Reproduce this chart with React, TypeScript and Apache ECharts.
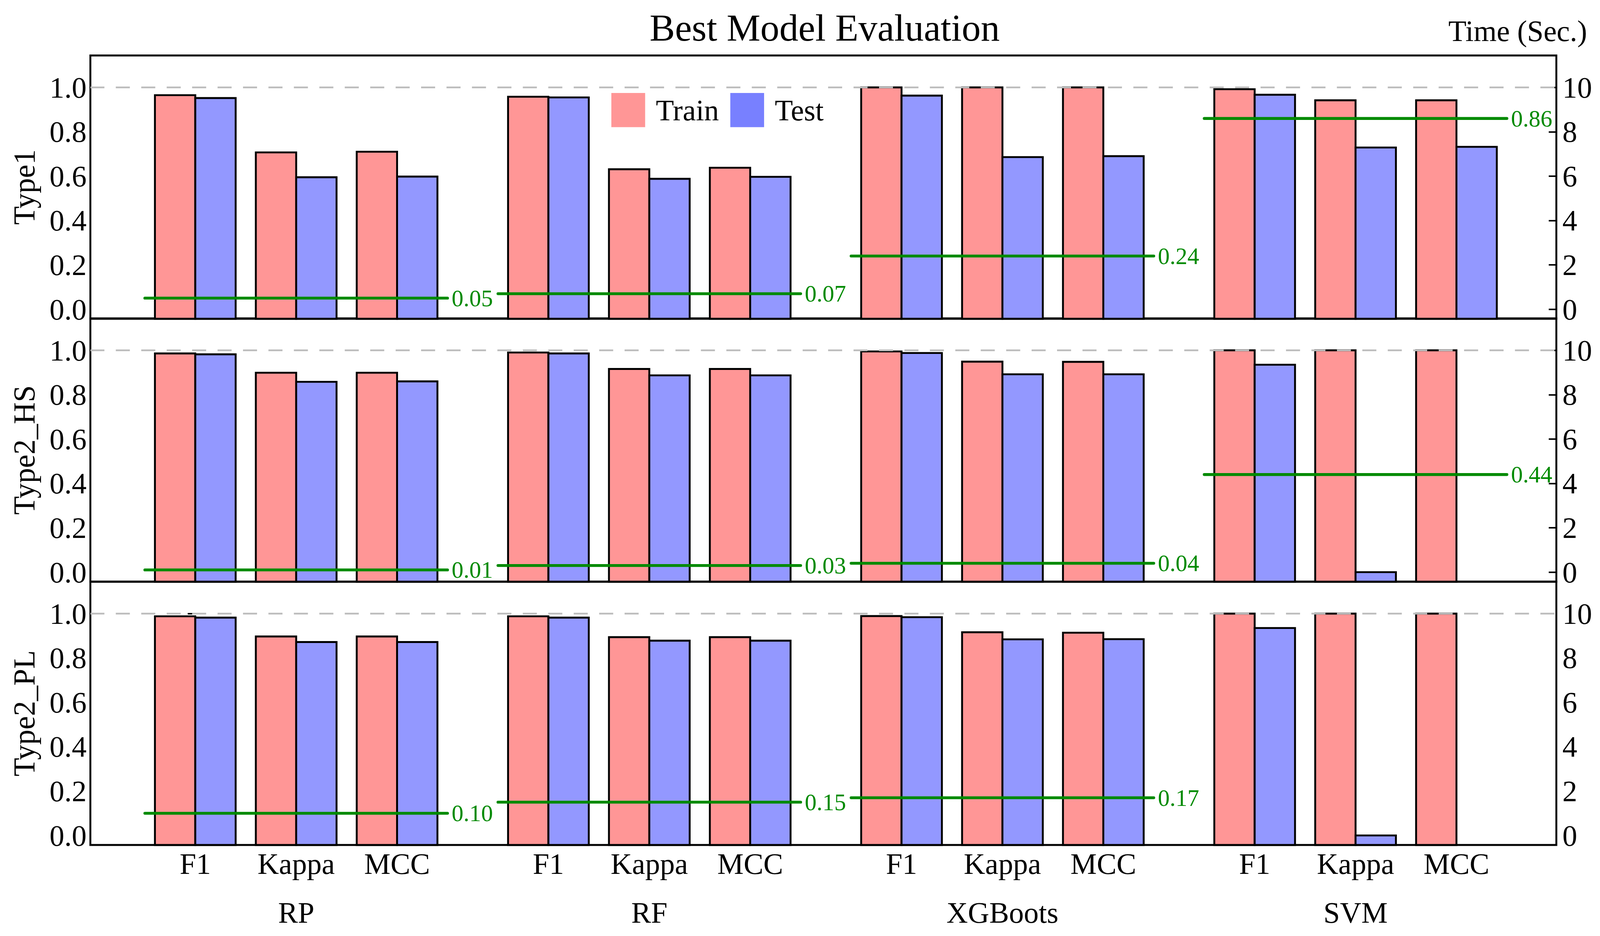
import React, { useEffect, useRef } from 'react';
import * as echarts from 'echarts';

const PANELS = ['Type1', 'Type2_HS', 'Type2_PL'];
const GROUPS = ['RP', 'RF', 'XGBoots', 'SVM'];
const METRICS = ['F1', 'Kappa', 'MCC'];
const Y_TICKS = [0, 0.2, 0.4, 0.6, 0.8, 1.0];
const TIME_TICKS = [0, 2, 4, 6, 8, 10];

// order: RP(F1,Kappa,MCC), RF(...), XGBoots(...), SVM(...)
const TRAIN_TYPE1 = [0.965, 0.707, 0.71, 0.958, 0.631, 0.638, 1.0, 1.0, 1.0, 0.992, 0.942, 0.942];
const TEST_TYPE1 = [0.952, 0.595, 0.598, 0.955, 0.588, 0.597, 0.963, 0.686, 0.69, 0.967, 0.729, 0.732];
const TIME_TYPE1 = [0.05, 0.07, 0.24, 0.86];

const TRAIN_TYPE2_HS = [0.986, 0.899, 0.899, 0.99, 0.916, 0.916, 0.995, 0.949, 0.948, 1.0, 1.0, 1.0];
const TEST_TYPE2_HS = [0.982, 0.858, 0.86, 0.986, 0.887, 0.887, 0.988, 0.892, 0.892, 0.935, 0.0, null];
const TIME_TYPE2_HS = [0.01, 0.03, 0.04, 0.44];

const TRAIN_TYPE2_PL = [0.988, 0.897, 0.897, 0.988, 0.894, 0.894, 0.989, 0.916, 0.914, 1.0, 1.0, 1.0];
const TEST_TYPE2_PL = [0.982, 0.872, 0.872, 0.982, 0.878, 0.878, 0.984, 0.884, 0.885, 0.935, 0.0, null];
const TIME_TYPE2_PL = [0.1, 0.15, 0.17, null];

const TRAIN = [TRAIN_TYPE1, TRAIN_TYPE2_HS, TRAIN_TYPE2_PL];
const TEST = [TEST_TYPE1, TEST_TYPE2_HS, TEST_TYPE2_PL];
const TIME = [TIME_TYPE1, TIME_TYPE2_HS, TIME_TYPE2_PL];

const FONT = "'Liberation Serif', 'Times New Roman', serif";
const TRAIN_COLOR = '#FF9696';
const TEST_COLOR = '#9398FF';
const GREEN = '#008A00';
const X_MIN = -1.04;
const X_MAX = 13.49;
const Y_MIN = -0.043;
const Y_MAX = 1.144;
const GROUP_START = [0, 3.5, 7, 10.5];
const BAR_W = 0.4;
const REF_W = 4214;
const REF_H = 2396;
const GRID_TOPS = [142, 815, 1489];
const GRID_H = 674;

const METRIC_X = GROUP_START.flatMap((g) => METRICS.map((_, m) => g + m));
const GROUP_X = GROUP_START.map((g) => g + 1);

function barSeries(p: number, name: string, values: (number | null)[], color: string, left: boolean, lw: number) {
  const data = METRIC_X.map((x, i) => (values[i] == null ? null : [x, values[i]])).filter((d) => d != null);
  return {
    type: 'custom',
    name,
    xAxisIndex: p,
    yAxisIndex: p * 2,
    z: 2,
    itemStyle: { color },
    data,
    renderItem: (_params: any, api: any) => {
      const x = api.value(0);
      const v = api.value(1);
      const top = api.coord([x, v]);
      const base = api.coord([x, Y_MIN]);
      const w = api.size([BAR_W, 0])[0];
      const x0 = left ? top[0] - w : top[0];
      return {
        type: 'rect',
        shape: { x: x0, y: top[1], width: w, height: base[1] - top[1] },
        style: { fill: color, stroke: '#000', lineWidth: lw },
      };
    },
  };
}

export default function App() {
  const ref = useRef<HTMLDivElement>(null);
  useEffect(() => {
    const el = ref.current;
    if (!el) return;
    const W = el.clientWidth || REF_W;
    const H = el.clientHeight || REF_H;
    const sx = W / REF_W;
    const sy = H / REF_H;
    const f = Math.min(sx, sy);
    const chart = echarts.init(el, null, { renderer: 'svg', width: W, height: H });

    const grids = GRID_TOPS.map((top) => ({
      left: 238 * sx,
      right: 115 * sx,
      top: top * sy,
      height: GRID_H * sy,
      show: true,
      borderColor: '#000',
      borderWidth: 5 * f,
      backgroundColor: 'transparent',
    }));

    const xAxes: any[] = PANELS.map((_, p) => ({
      type: 'value',
      gridIndex: p,
      position: 'bottom',
      min: X_MIN,
      max: X_MAX,
      axisLine: { show: false },
      axisTick: { show: false },
      splitLine: { show: false },
      axisLabel: {
        show: p === 2,
        customValues: METRIC_X,
        margin: 10 * sy,
        fontSize: 78 * f,
        fontFamily: FONT,
        color: '#000',
        formatter: (v: number) => {
          const i = METRIC_X.findIndex((x) => Math.abs(x - v) < 1e-6);
          return i >= 0 ? METRICS[i % 3] : '';
        },
      },
    }));
    xAxes.push({
      type: 'value',
      gridIndex: 2,
      position: 'bottom',
      min: X_MIN,
      max: X_MAX,
      axisLine: { show: false },
      axisTick: { show: false },
      splitLine: { show: false },
      axisLabel: {
        customValues: GROUP_X,
        margin: 135 * sy,
        fontSize: 78 * f,
        fontFamily: FONT,
        color: '#000',
        formatter: (v: number) => {
          const i = GROUP_X.findIndex((x) => Math.abs(x - v) < 1e-6);
          return i >= 0 ? GROUPS[i] : '';
        },
      },
    });

    const yAxes: any[] = [];
    PANELS.forEach((name, p) => {
      yAxes.push({
        type: 'value',
        gridIndex: p,
        position: 'left',
        min: Y_MIN,
        max: Y_MAX,
        name,
        nameLocation: 'middle',
        nameRotate: 90,
        nameGap: 134 * sx,
        nameTextStyle: { fontSize: 80 * f, fontFamily: FONT, color: '#000' },
        axisLine: { show: false },
        splitLine: { show: false },
        axisTick: {
          show: true,
          inside: true,
          length: 20 * sx,
          customValues: Y_TICKS,
          lineStyle: { color: '#000', width: 4 * f },
        },
        axisLabel: {
          customValues: Y_TICKS,
          margin: 10 * sx,
          fontSize: 78 * f,
          fontFamily: FONT,
          color: '#000',
          formatter: (v: number) => v.toFixed(1),
        },
      });
      yAxes.push({
        type: 'value',
        gridIndex: p,
        position: 'right',
        min: Y_MIN * 10,
        max: Y_MAX * 10,
        axisLine: { show: false },
        splitLine: { show: false },
        axisTick: {
          show: true,
          inside: true,
          length: 20 * sx,
          customValues: TIME_TICKS,
          lineStyle: { color: '#000', width: 4 * f },
        },
        axisLabel: {
          customValues: TIME_TICKS,
          margin: 16 * sx,
          fontSize: 78 * f,
          fontFamily: FONT,
          color: '#000',
          formatter: (v: number) => String(v),
        },
      });
    });

    const series: any[] = [];
    PANELS.forEach((_, p) => {
      series.push(barSeries(p, 'Train', TRAIN[p], TRAIN_COLOR, true, 5 * f));
      series.push(barSeries(p, 'Test', TEST[p], TEST_COLOR, false, 5 * f));
      series.push({
        type: 'line',
        name: 'ref',
        xAxisIndex: p,
        yAxisIndex: p * 2,
        z: 4,
        symbol: 'none',
        silent: true,
        data: [[X_MIN, 1], [X_MAX, 1]],
        lineStyle: { color: '#BDBDBD', width: 4.5 * f, type: [37 * sx, 30 * sx] },
      });
      TIME[p].forEach((t, g) => {
        if (t == null) return;
        series.push({
          type: 'line',
          name: 'time',
          xAxisIndex: p,
          yAxisIndex: p * 2,
          z: 5,
          symbol: 'none',
          silent: true,
          data: [[GROUP_START[g] - 0.5, t], [GROUP_START[g] + 2.5, t]],
          lineStyle: { color: GREEN, width: 7.5 * f, cap: 'round' },
          endLabel: {
            show: true,
            formatter: () => t.toFixed(2),
            color: GREEN,
            fontSize: 62 * f,
            fontFamily: FONT,
            distance: 11 * sx,
          },
        });
      });
    });

    chart.setOption({
      animation: false,
      textStyle: { fontFamily: FONT },
      grid: grids,
      xAxis: xAxes,
      yAxis: yAxes,
      legend: {
        left: 1605 * sx,
        top: 233 * sy,
        itemWidth: 89 * f,
        itemHeight: 90 * f,
        itemGap: 30 * sx,
        selectedMode: false,
        icon: 'rect',
        textStyle: { fontSize: 78 * f, fontFamily: FONT, color: '#000', padding: [0, 0, 0, 23 * sx] },
        data: [
          { name: 'Train', itemStyle: { color: '#FF9696', borderWidth: 0 } },
          { name: 'Test', itemStyle: { color: '#7880FF', borderWidth: 0 } },
        ],
      },
      graphic: [
        {
          type: 'text',
          x: 2172 * sx,
          y: 71 * sy,
          style: {
            text: 'Best Model Evaluation',
            fontSize: 100 * f,
            fontFamily: FONT,
            fill: '#000',
            textAlign: 'center',
            textVerticalAlign: 'middle',
          },
        },
        {
          type: 'text',
          x: 4180 * sx,
          y: 79 * sy,
          style: {
            text: 'Time (Sec.)',
            fontSize: 78 * f,
            fontFamily: FONT,
            fill: '#000',
            textAlign: 'right',
            textVerticalAlign: 'middle',
          },
        },
      ],
      series,
    });
    return () => chart.dispose();
  }, []);
  return (
    <div
      ref={ref}
      style={{ position: 'fixed', left: 0, top: 0, width: '100vw', height: '100vh', background: '#fff' }}
    />
  );
}
